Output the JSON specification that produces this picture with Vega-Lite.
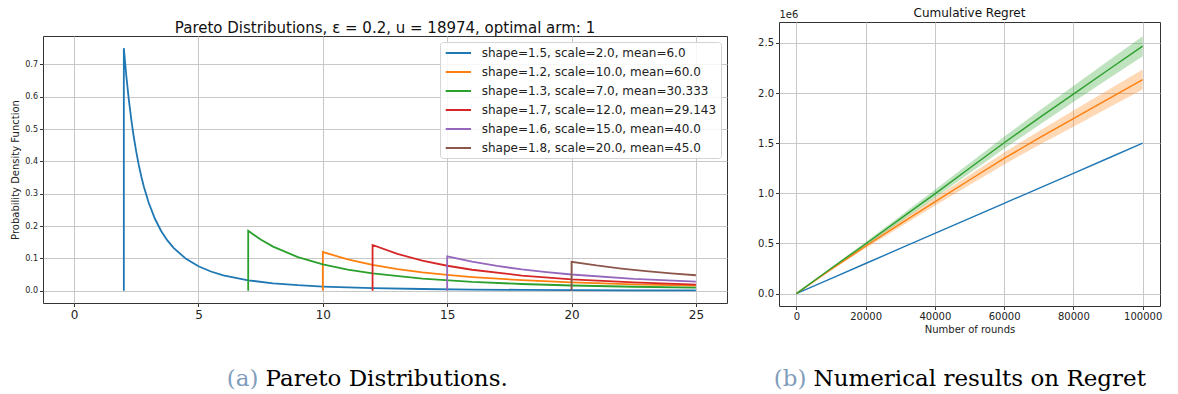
{
  "$schema": "https://vega.github.io/schema/vega-lite/v6.json",
  "padding": {"left": 10, "top": 6, "right": 0, "bottom": 0},
  "background": "white",
  "config": {
    "font": "DejaVu Sans",
    "view": {"stroke": "#333333", "strokeWidth": 1},
    "axis": {
      "domain": false,
      "grid": true,
      "gridColor": "#c8c8c8",
      "gridWidth": 1,
      "tickColor": "#333333",
      "tickSize": 3.5,
      "labelColor": "#222222",
      "titleColor": "#222222",
      "titleFontWeight": "normal",
      "labelPadding": 2
    },
    "title": {"fontWeight": "normal", "color": "#111111", "anchor": "middle"},
    "legend": {
      "strokeColor": "#d4d4d4",
      "fillColor": "rgba(255,255,255,0.85)",
      "cornerRadius": 3,
      "labelColor": "#222222"
    }
  },
  "datasets": {
    "pdf": [
      {"s": "shape=1.5, scale=2.0, mean=6.0", "i": 0, "x": 2, "y": 0},
      {"s": "shape=1.5, scale=2.0, mean=6.0", "i": 1, "x": 2, "y": 0.75},
      {"s": "shape=1.5, scale=2.0, mean=6.0", "i": 2, "x": 2.1, "y": 0.6639},
      {"s": "shape=1.5, scale=2.0, mean=6.0", "i": 3, "x": 2.2, "y": 0.591},
      {"s": "shape=1.5, scale=2.0, mean=6.0", "i": 4, "x": 2.3, "y": 0.5288},
      {"s": "shape=1.5, scale=2.0, mean=6.0", "i": 5, "x": 2.4, "y": 0.4754},
      {"s": "shape=1.5, scale=2.0, mean=6.0", "i": 6, "x": 2.5, "y": 0.4293},
      {"s": "shape=1.5, scale=2.0, mean=6.0", "i": 7, "x": 2.6, "y": 0.3892},
      {"s": "shape=1.5, scale=2.0, mean=6.0", "i": 8, "x": 2.7, "y": 0.3542},
      {"s": "shape=1.5, scale=2.0, mean=6.0", "i": 9, "x": 2.8, "y": 0.3234},
      {"s": "shape=1.5, scale=2.0, mean=6.0", "i": 10, "x": 3, "y": 0.2722},
      {"s": "shape=1.5, scale=2.0, mean=6.0", "i": 11, "x": 3.25, "y": 0.2228},
      {"s": "shape=1.5, scale=2.0, mean=6.0", "i": 12, "x": 3.5, "y": 0.1851},
      {"s": "shape=1.5, scale=2.0, mean=6.0", "i": 13, "x": 3.75, "y": 0.1558},
      {"s": "shape=1.5, scale=2.0, mean=6.0", "i": 14, "x": 4, "y": 0.1326},
      {"s": "shape=1.5, scale=2.0, mean=6.0", "i": 15, "x": 4.5, "y": 0.0988},
      {"s": "shape=1.5, scale=2.0, mean=6.0", "i": 16, "x": 5, "y": 0.0759},
      {"s": "shape=1.5, scale=2.0, mean=6.0", "i": 17, "x": 5.5, "y": 0.0598},
      {"s": "shape=1.5, scale=2.0, mean=6.0", "i": 18, "x": 6, "y": 0.0481},
      {"s": "shape=1.5, scale=2.0, mean=6.0", "i": 19, "x": 7, "y": 0.0327},
      {"s": "shape=1.5, scale=2.0, mean=6.0", "i": 20, "x": 8, "y": 0.0234},
      {"s": "shape=1.5, scale=2.0, mean=6.0", "i": 21, "x": 9, "y": 0.0175},
      {"s": "shape=1.5, scale=2.0, mean=6.0", "i": 22, "x": 10, "y": 0.0134},
      {"s": "shape=1.5, scale=2.0, mean=6.0", "i": 23, "x": 12, "y": 0.0085},
      {"s": "shape=1.5, scale=2.0, mean=6.0", "i": 24, "x": 14, "y": 0.0058},
      {"s": "shape=1.5, scale=2.0, mean=6.0", "i": 25, "x": 16, "y": 0.0041},
      {"s": "shape=1.5, scale=2.0, mean=6.0", "i": 26, "x": 18, "y": 0.0031},
      {"s": "shape=1.5, scale=2.0, mean=6.0", "i": 27, "x": 20, "y": 0.0024},
      {"s": "shape=1.5, scale=2.0, mean=6.0", "i": 28, "x": 22.5, "y": 0.0018},
      {"s": "shape=1.5, scale=2.0, mean=6.0", "i": 29, "x": 25, "y": 0.0014},

      {"s": "shape=1.2, scale=10.0, mean=60.0", "i": 0, "x": 10, "y": 0},
      {"s": "shape=1.2, scale=10.0, mean=60.0", "i": 1, "x": 10, "y": 0.12},
      {"s": "shape=1.2, scale=10.0, mean=60.0", "i": 2, "x": 11, "y": 0.0973},
      {"s": "shape=1.2, scale=10.0, mean=60.0", "i": 3, "x": 12, "y": 0.0804},
      {"s": "shape=1.2, scale=10.0, mean=60.0", "i": 4, "x": 13, "y": 0.0674},
      {"s": "shape=1.2, scale=10.0, mean=60.0", "i": 5, "x": 14, "y": 0.0572},
      {"s": "shape=1.2, scale=10.0, mean=60.0", "i": 6, "x": 15, "y": 0.0492},
      {"s": "shape=1.2, scale=10.0, mean=60.0", "i": 7, "x": 16, "y": 0.0427},
      {"s": "shape=1.2, scale=10.0, mean=60.0", "i": 8, "x": 18, "y": 0.0329},
      {"s": "shape=1.2, scale=10.0, mean=60.0", "i": 9, "x": 20, "y": 0.0261},
      {"s": "shape=1.2, scale=10.0, mean=60.0", "i": 10, "x": 22.5, "y": 0.0202},
      {"s": "shape=1.2, scale=10.0, mean=60.0", "i": 11, "x": 25, "y": 0.016},

      {"s": "shape=1.3, scale=7.0, mean=30.333", "i": 0, "x": 7, "y": 0},
      {"s": "shape=1.3, scale=7.0, mean=30.333", "i": 1, "x": 7, "y": 0.1857},
      {"s": "shape=1.3, scale=7.0, mean=30.333", "i": 2, "x": 7.5, "y": 0.1585},
      {"s": "shape=1.3, scale=7.0, mean=30.333", "i": 3, "x": 8, "y": 0.1366},
      {"s": "shape=1.3, scale=7.0, mean=30.333", "i": 4, "x": 9, "y": 0.1042},
      {"s": "shape=1.3, scale=7.0, mean=30.333", "i": 5, "x": 10, "y": 0.0818},
      {"s": "shape=1.3, scale=7.0, mean=30.333", "i": 6, "x": 11, "y": 0.0657},
      {"s": "shape=1.3, scale=7.0, mean=30.333", "i": 7, "x": 12, "y": 0.0538},
      {"s": "shape=1.3, scale=7.0, mean=30.333", "i": 8, "x": 14, "y": 0.0377},
      {"s": "shape=1.3, scale=7.0, mean=30.333", "i": 9, "x": 16, "y": 0.0277},
      {"s": "shape=1.3, scale=7.0, mean=30.333", "i": 10, "x": 18, "y": 0.0212},
      {"s": "shape=1.3, scale=7.0, mean=30.333", "i": 11, "x": 20, "y": 0.0166},
      {"s": "shape=1.3, scale=7.0, mean=30.333", "i": 12, "x": 22.5, "y": 0.0127},
      {"s": "shape=1.3, scale=7.0, mean=30.333", "i": 13, "x": 25, "y": 0.0099},

      {"s": "shape=1.7, scale=12.0, mean=29.143", "i": 0, "x": 12, "y": 0},
      {"s": "shape=1.7, scale=12.0, mean=29.143", "i": 1, "x": 12, "y": 0.1417},
      {"s": "shape=1.7, scale=12.0, mean=29.143", "i": 2, "x": 13, "y": 0.1141},
      {"s": "shape=1.7, scale=12.0, mean=29.143", "i": 3, "x": 14, "y": 0.0934},
      {"s": "shape=1.7, scale=12.0, mean=29.143", "i": 4, "x": 15, "y": 0.0776},
      {"s": "shape=1.7, scale=12.0, mean=29.143", "i": 5, "x": 16, "y": 0.0652},
      {"s": "shape=1.7, scale=12.0, mean=29.143", "i": 6, "x": 18, "y": 0.0474},
      {"s": "shape=1.7, scale=12.0, mean=29.143", "i": 7, "x": 20, "y": 0.0357},
      {"s": "shape=1.7, scale=12.0, mean=29.143", "i": 8, "x": 22.5, "y": 0.026},
      {"s": "shape=1.7, scale=12.0, mean=29.143", "i": 9, "x": 25, "y": 0.0195},

      {"s": "shape=1.6, scale=15.0, mean=40.0", "i": 0, "x": 15, "y": 0},
      {"s": "shape=1.6, scale=15.0, mean=40.0", "i": 1, "x": 15, "y": 0.1067},
      {"s": "shape=1.6, scale=15.0, mean=40.0", "i": 2, "x": 16, "y": 0.0902},
      {"s": "shape=1.6, scale=15.0, mean=40.0", "i": 3, "x": 17, "y": 0.077},
      {"s": "shape=1.6, scale=15.0, mean=40.0", "i": 4, "x": 18, "y": 0.0664},
      {"s": "shape=1.6, scale=15.0, mean=40.0", "i": 5, "x": 19, "y": 0.0577},
      {"s": "shape=1.6, scale=15.0, mean=40.0", "i": 6, "x": 20, "y": 0.0505},
      {"s": "shape=1.6, scale=15.0, mean=40.0", "i": 7, "x": 22.5, "y": 0.0372},
      {"s": "shape=1.6, scale=15.0, mean=40.0", "i": 8, "x": 25, "y": 0.0283},

      {"s": "shape=1.8, scale=20.0, mean=45.0", "i": 0, "x": 20, "y": 0},
      {"s": "shape=1.8, scale=20.0, mean=45.0", "i": 1, "x": 20, "y": 0.09},
      {"s": "shape=1.8, scale=20.0, mean=45.0", "i": 2, "x": 21, "y": 0.0785},
      {"s": "shape=1.8, scale=20.0, mean=45.0", "i": 3, "x": 22, "y": 0.0689},
      {"s": "shape=1.8, scale=20.0, mean=45.0", "i": 4, "x": 23, "y": 0.0609},
      {"s": "shape=1.8, scale=20.0, mean=45.0", "i": 5, "x": 24, "y": 0.054},
      {"s": "shape=1.8, scale=20.0, mean=45.0", "i": 6, "x": 25, "y": 0.0482}
    ],
    "regret": [
      {"algo": "Ada_RobustUCB", "rounds": 0, "regret": 0, "lo": 0, "hi": 0},
      {"algo": "Ada_RobustUCB", "rounds": 10000, "regret": 150000, "lo": 150000, "hi": 150000},
      {"algo": "Ada_RobustUCB", "rounds": 20000, "regret": 300000, "lo": 300000, "hi": 300000},
      {"algo": "Ada_RobustUCB", "rounds": 30000, "regret": 450000, "lo": 450000, "hi": 450000},
      {"algo": "Ada_RobustUCB", "rounds": 40000, "regret": 600000, "lo": 600000, "hi": 600000},
      {"algo": "Ada_RobustUCB", "rounds": 50000, "regret": 750000, "lo": 750000, "hi": 750000},
      {"algo": "Ada_RobustUCB", "rounds": 60000, "regret": 900000, "lo": 900000, "hi": 900000},
      {"algo": "Ada_RobustUCB", "rounds": 70000, "regret": 1050000, "lo": 1050000, "hi": 1050000},
      {"algo": "Ada_RobustUCB", "rounds": 80000, "regret": 1200000, "lo": 1200000, "hi": 1200000},
      {"algo": "Ada_RobustUCB", "rounds": 90000, "regret": 1350000, "lo": 1350000, "hi": 1350000},
      {"algo": "Ada_RobustUCB", "rounds": 100000, "regret": 1500000, "lo": 1500000, "hi": 1500000},

      {"algo": "UCB1", "rounds": 0, "regret": 0, "lo": 0, "hi": 0},
      {"algo": "UCB1", "rounds": 10000, "regret": 240000, "lo": 230000, "hi": 250000},
      {"algo": "UCB1", "rounds": 20000, "regret": 472000, "lo": 452000, "hi": 492000},
      {"algo": "UCB1", "rounds": 30000, "regret": 695000, "lo": 665000, "hi": 725000},
      {"algo": "UCB1", "rounds": 40000, "regret": 915000, "lo": 875000, "hi": 955000},
      {"algo": "UCB1", "rounds": 50000, "regret": 1133000, "lo": 1083000, "hi": 1183000},
      {"algo": "UCB1", "rounds": 60000, "regret": 1348000, "lo": 1288000, "hi": 1408000},
      {"algo": "UCB1", "rounds": 70000, "regret": 1550000, "lo": 1480000, "hi": 1620000},
      {"algo": "UCB1", "rounds": 80000, "regret": 1745000, "lo": 1665000, "hi": 1825000},
      {"algo": "UCB1", "rounds": 90000, "regret": 1940000, "lo": 1850000, "hi": 2030000},
      {"algo": "UCB1", "rounds": 100000, "regret": 2135000, "lo": 2035000, "hi": 2235000},

      {"algo": "RobustUCB_TM", "rounds": 0, "regret": 0, "lo": 0, "hi": 0},
      {"algo": "RobustUCB_TM", "rounds": 10000, "regret": 250000, "lo": 240000, "hi": 260000},
      {"algo": "RobustUCB_TM", "rounds": 20000, "regret": 495000, "lo": 475000, "hi": 515000},
      {"algo": "RobustUCB_TM", "rounds": 30000, "regret": 745000, "lo": 715000, "hi": 775000},
      {"algo": "RobustUCB_TM", "rounds": 40000, "regret": 995000, "lo": 955000, "hi": 1035000},
      {"algo": "RobustUCB_TM", "rounds": 50000, "regret": 1250000, "lo": 1200000, "hi": 1300000},
      {"algo": "RobustUCB_TM", "rounds": 60000, "regret": 1505000, "lo": 1445000, "hi": 1565000},
      {"algo": "RobustUCB_TM", "rounds": 70000, "regret": 1750000, "lo": 1680000, "hi": 1820000},
      {"algo": "RobustUCB_TM", "rounds": 80000, "regret": 1990000, "lo": 1910000, "hi": 2070000},
      {"algo": "RobustUCB_TM", "rounds": 90000, "regret": 2230000, "lo": 2140000, "hi": 2320000},
      {"algo": "RobustUCB_TM", "rounds": 100000, "regret": 2468000, "lo": 2368000, "hi": 2568000}
    ]
  },
  "vconcat": [
    {
      "hconcat": [
        {
          "width": 684,
          "height": 267,
          "title": {"text": ["", "Pareto Distributions, ε = 0.2, u = 18974, optimal arm: 1"], "fontSize": 15, "lineHeight": 4.3, "offset": 0.3},
          "layer": [
            {
              "data": {"name": "pdf"},
              "mark": {"type": "line", "strokeWidth": 1.8, "clip": true},
              "encoding": {
                "x": {
                  "field": "x", "type": "quantitative",
                  "scale": {"domain": [-1.25, 26.25], "nice": false, "zero": false},
                  "axis": {"values": [0, 5, 10, 15, 20, 25], "labelFontSize": 12, "title": null, "labelPadding": 3}
                },
                "y": {
                  "field": "y", "type": "quantitative",
                  "scale": {"domain": [-0.0375, 0.7875], "nice": false, "zero": false},
                  "axis": {"values": [0, 0.1, 0.2, 0.3, 0.4, 0.5, 0.6, 0.7], "format": ".1f", "labelFontSize": 8,
                           "title": "Probability Density Function", "titleFontSize": 10, "titlePadding": 4}
                },
                "color": {
                  "field": "s", "type": "nominal",
                  "scale": {
                    "domain": [
                      "shape=1.5, scale=2.0, mean=6.0",
                      "shape=1.2, scale=10.0, mean=60.0",
                      "shape=1.3, scale=7.0, mean=30.333",
                      "shape=1.7, scale=12.0, mean=29.143",
                      "shape=1.6, scale=15.0, mean=40.0",
                      "shape=1.8, scale=20.0, mean=45.0"
                    ],
                    "range": ["#1f77b4", "#ff7f0e", "#2ca02c", "#d62728", "#9467bd", "#8c564b"]
                  },
                  "legend": {
                    "title": null, "orient": "top-right", "offset": 6,
                    "labelFontSize": 12, "labelLimit": 400, "labelOffset": 23.7,
                    "symbolType": "M-0.88,0H3.33", "symbolSize": 144, "symbolStrokeWidth": 2,
                    "rowPadding": 6, "padding": 4
                  }
                },
                "order": {"field": "i", "type": "quantitative"}
              }
            },
            {
              "mark": {"type": "rule", "color": "black", "strokeWidth": 2},
              "encoding": {
                "y": {
                  "datum": 0, "type": "quantitative",
                  "scale": {"domain": [-0.0375, 0.7875], "nice": false, "zero": false},
                  "axis": {"values": [0, 0.1, 0.2, 0.3, 0.4, 0.5, 0.6, 0.7], "format": ".1f", "labelFontSize": 8,
                           "title": "Probability Density Function", "titleFontSize": 10, "titlePadding": 4}
                }
              }
            }
          ]
        },
        {
          "width": 381,
          "height": 284,
          "title": {"text": "Cumulative Regret", "fontSize": 12, "offset": -11},
          "data": {"name": "regret"},
          "encoding": {
            "x": {
              "field": "rounds", "type": "quantitative",
              "scale": {"domain": [-5000, 105000], "nice": false, "zero": false},
              "axis": {"values": [0, 20000, 40000, 60000, 80000, 100000], "format": "d", "labelFontSize": 10,
                       "title": "Number of rounds", "titleFontSize": 10, "titlePadding": 3}
            },
            "color": {
              "field": "algo", "type": "nominal",
              "scale": {"domain": ["Ada_RobustUCB", "UCB1", "RobustUCB_TM"], "range": ["#1f77b4", "#ff7f0e", "#2ca02c"]}
            }
          },
          "layer": [
            {
              "mark": {"type": "area", "opacity": 0.3},
              "encoding": {
                "y": {"field": "lo", "type": "quantitative"},
                "y2": {"field": "hi"},
                "color": {"field": "algo", "type": "nominal", "legend": null}
              }
            },
            {
              "mark": {"type": "line", "strokeWidth": 1.4},
              "encoding": {
                "y": {
                  "field": "regret", "type": "quantitative",
                  "scale": {"domain": [-124000, 2709000], "nice": false, "zero": false},
                  "axis": {"values": [0, 500000, 1000000, 1500000, 2000000, 2500000],
                           "labelExpr": "format(datum.value / 1000000, '.1f')", "labelFontSize": 10,
                           "title": "1e6", "titleFontSize": 10, "titleAngle": 0, "titleAlign": "left",
                           "titleBaseline": "bottom", "titleX": 0, "titleY": -3}
                },
                "color": {
                  "field": "algo", "type": "nominal",
                  "legend": {
                    "title": null, "orient": "top-left", "offset": 6,
                    "labelFontSize": 10, "labelOffset": 21.3,
                    "symbolType": "M-0.94,0H3.6", "symbolSize": 100, "symbolStrokeWidth": 1.5,
                    "rowPadding": 6.2, "padding": 3
                  }
                }
              }
            }
          ]
        }
      ],
      "spacing": 29,
      "center": true,
      "resolve": {"scale": {"color": "independent"}, "legend": {"color": "independent"}}
    },
    {
      "hconcat": [
        {
          "width": 438,
          "height": 14,
          "view": {"stroke": null},
          "data": {"values": [{"tag": "(a)", "caption": "Pareto Distributions."}]},
          "layer": [
            {
              "mark": {"type": "text", "align": "right", "baseline": "alphabetic", "dx": -3.5, "font": "DejaVu Serif", "fontSize": 23, "color": "#7f9cbb"},
              "encoding": {"text": {"field": "tag"}}
            },
            {
              "mark": {"type": "text", "align": "left", "baseline": "alphabetic", "dx": 3.5, "font": "DejaVu Serif", "fontSize": 23, "color": "#000000"},
              "encoding": {"text": {"field": "caption"}}
            }
          ]
        },
        {
          "width": 604,
          "height": 14,
          "view": {"stroke": null},
          "data": {"values": [{"tag": "(b)", "caption": "Numerical results on Regret"}]},
          "layer": [
            {
              "mark": {"type": "text", "align": "right", "baseline": "alphabetic", "dx": -3.5, "font": "DejaVu Serif", "fontSize": 23, "color": "#7f9cbb"},
              "encoding": {"text": {"field": "tag"}}
            },
            {
              "mark": {"type": "text", "align": "left", "baseline": "alphabetic", "dx": 3.5, "font": "DejaVu Serif", "fontSize": 23, "color": "#000000"},
              "encoding": {"text": {"field": "caption"}}
            }
          ]
        }
      ],
      "spacing": 0
    }
  ],
  "spacing": 33
}
